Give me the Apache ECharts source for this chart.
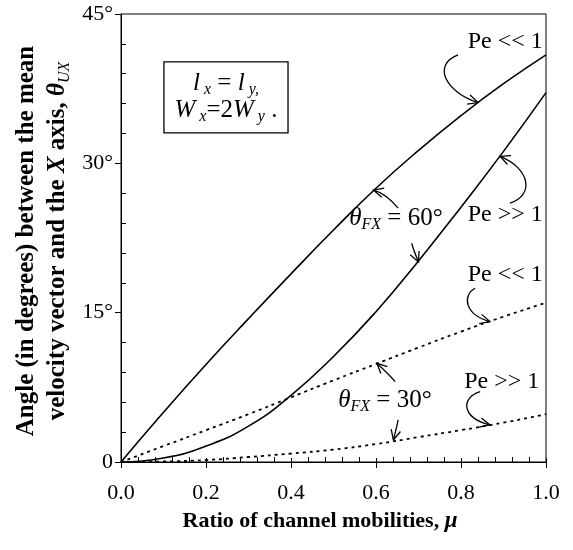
<!DOCTYPE html>
<html><head><meta charset="utf-8">
<script src="https://cdn.jsdelivr.net/npm/echarts@6/dist/echarts.min.js"></script>
<style>html,body{margin:0;padding:0;background:#fff}#c{width:573px;height:550px}</style>
</head><body><div id="c"></div>
<script>
// ---- data ----
const mu = [0, 0.1, 0.2, 0.3, 0.4, 0.5, 0.6, 0.7, 0.8, 0.9, 1.0];
const theta60PeLow  = [0, 5.0, 9.8, 14.4, 18.9, 23.3, 27.5, 31.3, 34.8, 38.0, 40.9];
const theta60PeHigh = [0, 0.4, 1.6, 3.6, 6.7, 10.6, 15.1, 20.2, 25.6, 31.2, 37.1];
const theta30PeLow  = [0, 1.6, 3.2, 4.8, 6.5, 8.2, 9.85, 11.5, 13.1, 14.6, 16.0];
const theta30PeHigh = [0, 0.05, 0.2, 0.5, 0.85, 1.25, 1.8, 2.5, 3.2, 3.95, 4.8];
const xTicks = [0, 0.2, 0.4, 0.6, 0.8, 1.0];
const yTicks = [0, 15, 30, 45];

// annotations, in data coordinates
const labels = [
  {text: 'Pe << 1', at: [0.904, 42.2]},
  {text: 'Pe >> 1', at: [0.904, 24.8]},
  {text: '{th|θ}{sub|FX}{n| = 60°}', at: [0.647, 24.5]},
  {text: 'Pe << 1', at: [0.904, 18.8]},
  {text: '{th|θ}{sub|FX}{n| = 30°}', at: [0.621, 6.2]},
  {text: 'Pe >> 1', at: [0.896, 8.1]}
];
const arrows = [
  [[0.793, 40.9], [0.732, 39.9], [0.762, 37.2], [0.840, 36.1]],
  [[0.915, 26.0], [0.974, 26.8], [0.962, 29.5], [0.892, 30.7]],
  [[0.652, 25.5], [0.632, 26.5], [0.612, 27.1], [0.594, 27.3]],
  [[0.684, 21.97], [0.688, 21.3], [0.694, 20.7], [0.700, 20.1]],
  [[0.833, 17.45], [0.802, 16.7], [0.809, 14.8], [0.868, 14.1]],
  [[0.645, 8.07], [0.630, 8.8], [0.615, 9.4], [0.602, 9.91]],
  [[0.652, 4.22], [0.649, 3.5], [0.645, 2.9], [0.641, 2.21]],
  [[0.845, 7.06], [0.798, 6.43], [0.802, 4.42], [0.868, 3.72]]
];
const boxCorners = [[0.101, 40.2], [0.393, 33.05]];

const serif = 'Liberation Serif';
const chart = echarts.init(document.getElementById('c'));
const pairs = ys => mu.map((x, i) => [x, ys[i]]);
const black = '#000';

const lineSeries = (name, ys, dotted) => ({
  name, type: 'line', data: pairs(ys), symbol: 'none', smooth: 0.5,
  xAxisIndex: 0, yAxisIndex: 0,
  lineStyle: {color: black, width: dotted ? 1.8 : 1.6, type: dotted ? [3, 4] : 'solid'},
  silent: true
});

const xRange = {type: 'value', min: xTicks[0], max: xTicks[xTicks.length - 1], interval: xTicks[1] - xTicks[0]};

chart.setOption({
  animation: false,
  grid: {left: 121, top: 14, width: 425, height: 448, show: true, borderColor: black, borderWidth: 1, backgroundColor: 'transparent'},
  xAxis: [Object.assign({}, xRange, {
    position: 'bottom',
    axisLine: {onZero: false, lineStyle: {color: black, width: 1}},
    axisTick: {length: 6, lineStyle: {color: black}},
    minorTick: {show: true, splitNumber: 5, length: -5, lineStyle: {color: black}},
    splitLine: {show: false},
    axisLabel: {color: black, fontFamily: serif, fontSize: 22, margin: 20, formatter: v => v.toFixed(1)}
  }), Object.assign({}, xRange, {
    position: 'bottom',
    axisLine: {show: false, onZero: false},
    axisTick: {inside: true, length: 4, lineStyle: {color: black}},
    splitLine: {show: false},
    axisLabel: {show: false}
  })],
  yAxis: {
    type: 'value', min: yTicks[0], max: yTicks[yTicks.length - 1], interval: yTicks[1] - yTicks[0],
    axisLine: {onZero: false, lineStyle: {color: black, width: 1}},
    axisTick: {length: 6, lineStyle: {color: black}},
    minorTick: {show: true, splitNumber: 5, length: -5, lineStyle: {color: black}},
    splitLine: {show: false},
    axisLabel: {color: black, fontFamily: serif, fontSize: 22, margin: 8, showMinLabel: true, showMaxLabel: true,
      formatter: v => v === 0 ? '0' : v + '°'}
  },
  series: [
    lineSeries('θFX=60°, Pe<<1', theta60PeLow, false),
    lineSeries('θFX=60°, Pe>>1', theta60PeHigh, false),
    lineSeries('θFX=30°, Pe<<1', theta30PeLow, true),
    lineSeries('θFX=30°, Pe>>1', theta30PeHigh, true)
  ]
});

const toPx = d => chart.convertToPixel({xAxisIndex: 0, yAxisIndex: 0}, d);
const g = [];
const annRich = {
  th: {fontFamily: serif, fontStyle: 'italic', fontSize: 25, lineHeight: 30, fill: black},
  sub: {fontFamily: serif, fontStyle: 'italic', fontSize: 16, lineHeight: 17, verticalAlign: 'bottom', fill: black},
  n: {fontFamily: serif, fontSize: 25, lineHeight: 30, fill: black}
};
labels.forEach(l => {
  const p = toPx(l.at);
  g.push({type: 'text', x: p[0], y: p[1], silent: true,
    style: {text: l.text, rich: annRich, font: '24px "Liberation Serif"', fill: black, align: 'center', verticalAlign: 'middle'}});
});
arrows.forEach(a => {
  const p = a.map(toPx);
  g.push({type: 'bezierCurve', silent: true,
    shape: {x1: p[0][0], y1: p[0][1], cpx1: p[1][0], cpy1: p[1][1], cpx2: p[2][0], cpy2: p[2][1], x2: p[3][0], y2: p[3][1]},
    style: {stroke: black, lineWidth: 1.3, fill: 'none'}});
  const tip = p[3], from = p[2];
  const ang = Math.atan2(tip[1] - from[1], tip[0] - from[0]);
  const L = 11, h = 0.45;
  g.push({type: 'polyline', silent: true,
    shape: {points: [
      [tip[0] - L * Math.cos(ang - h), tip[1] - L * Math.sin(ang - h)],
      tip,
      [tip[0] - L * Math.cos(ang + h), tip[1] - L * Math.sin(ang + h)]
    ]},
    style: {stroke: black, lineWidth: 1.3, fill: 'none'}});
});
// parameter box
const b0 = toPx(boxCorners[0]), b1 = toPx(boxCorners[1]);
g.push({type: 'rect', silent: true, shape: {x: b0[0], y: b0[1], width: b1[0] - b0[0], height: b1[1] - b0[1]},
  style: {fill: 'none', stroke: black, lineWidth: 1.3}});
g.push({type: 'text', silent: true, x: (b0[0] + b1[0]) / 2, y: (b0[1] + b1[1]) / 2,
  style: {
    text: '{i|l}{s| x}{n| = }{i|l}{s| y,}\n{i|W}{s| x}{n|=2}{i|W}{s| y}{n| .}',
    align: 'center', verticalAlign: 'middle',
    rich: {
      i: {fontFamily: serif, fontStyle: 'italic', fontSize: 25, lineHeight: 27, fill: black},
      n: {fontFamily: serif, fontSize: 25, lineHeight: 27, fill: black},
      s: {fontFamily: serif, fontStyle: 'italic', fontSize: 16, lineHeight: 15, verticalAlign: 'bottom', fill: black}
    }
  }});
// axis titles
g.push({type: 'text', silent: true, x: 320, y: 521,
  style: {text: '{b|Ratio of channel mobilities, }{bi|μ}', align: 'center', verticalAlign: 'middle',
    rich: {
      b: {fontFamily: serif, fontWeight: 'bold', fontSize: 22, fill: black},
      bi: {fontFamily: serif, fontWeight: 'bold', fontStyle: 'italic', fontSize: 23, fill: black}
    }}});
g.push({type: 'text', silent: true, x: 42, y: 241, rotation: Math.PI / 2,
  style: {text: '{b|Angle (in degrees) between the mean}\n{b|velocity vector and the }{bi|X}{b| axis, }{bi|θ}{sub|UX}',
    align: 'center', verticalAlign: 'middle',
    rich: {
      b: {fontFamily: serif, fontWeight: 'bold', fontSize: 25, lineHeight: 31, fill: black},
      bi: {fontFamily: serif, fontWeight: 'bold', fontStyle: 'italic', fontSize: 25, lineHeight: 31, fill: black},
      sub: {fontFamily: serif, fontStyle: 'italic', fontSize: 16, lineHeight: 16, verticalAlign: 'bottom', fill: black}
    }}});
chart.setOption({graphic: {elements: g}});
</script></body></html>
